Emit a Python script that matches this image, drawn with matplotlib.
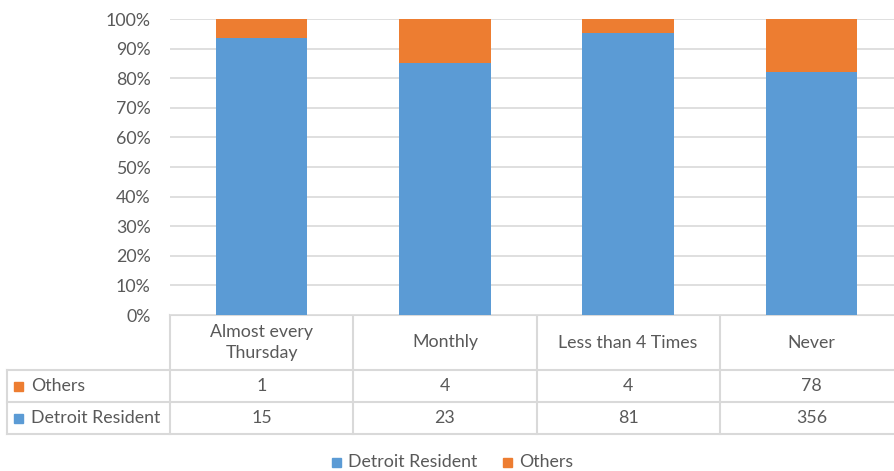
import matplotlib
matplotlib.use("Agg")
import matplotlib.pyplot as plt
import numpy as np
from matplotlib.patches import Rectangle

categories = ["Almost every\nThursday", "Monthly", "Less than 4 Times", "Never"]
series_names = ["Detroit Resident", "Others"]
detroit = [15, 23, 81, 356]
others = [1, 4, 4, 78]
yticks = [0, 10, 20, 30, 40, 50, 60, 70, 80, 90, 100]

BLUE = "#5B9BD5"
ORANGE = "#ED7D31"
GRID = "#D9D9D9"
TXT = "#595959"
FONT = ["Lato", "DejaVu Sans"]
plt.rcParams["font.family"] = FONT
FS = 12.8

W, H = 894, 471
fig = plt.figure(figsize=(W / 100, H / 100), dpi=100)

# pixel layout
ax_l, ax_r, ax_t, ax_b = 170, 903, 19, 315
ax = fig.add_axes([ax_l / W, 1 - ax_b / H, (ax_r - ax_l) / W, (ax_b - ax_t) / H])

det = np.array(detroit, float)
oth = np.array(others, float)
tot = det + oth
det_p = det / tot * 100
oth_p = oth / tot * 100
x = np.arange(len(categories))
ax.bar(x, det_p, width=0.5, color=BLUE, zorder=3)
ax.bar(x, oth_p, width=0.5, bottom=det_p, color=ORANGE, zorder=3)
ax.set_xlim(-0.5, len(categories) - 0.5)
ax.set_ylim(0, 100)
ax.set_yticks(yticks)
ax.set_yticklabels([f"{v}%" for v in yticks], color=TXT, fontsize=FS)
ax.tick_params(axis="y", length=0, pad=14)
ax.set_xticks([])
ax.grid(axis="y", color=GRID, linewidth=1.2, zorder=0)
for s in ax.spines.values():
    s.set_visible(False)

# data table drawn in pixel coordinates
tab = fig.add_axes([0, 0, 1, 1], zorder=-1)
tab.set_xlim(0, W)
tab.set_ylim(H, 0)
tab.axis("off")
col_w = (ax_r - ax_l) / len(categories)
left_edge = 7
rows_y = [315, 370, 402, 434]
lw = 1.5
tab.plot([ax_l, W], [rows_y[0]] * 2, color=GRID, lw=lw)
for yy in rows_y[1:]:
    tab.plot([left_edge, W], [yy, yy], color=GRID, lw=lw)
tab.plot([left_edge, left_edge], [rows_y[1], rows_y[3]], color=GRID, lw=lw)
for i in range(len(categories)):
    xx = ax_l + i * col_w
    tab.plot([xx, xx], [rows_y[0], rows_y[3]], color=GRID, lw=lw)

for i, c in enumerate(categories):
    cx = ax_l + (i + 0.5) * col_w
    tab.text(cx, (rows_y[0] + rows_y[1]) / 2, c, ha="center", va="center",
             color=TXT, fontsize=FS, linespacing=1.45)
    tab.text(cx, (rows_y[1] + rows_y[2]) / 2, str(others[i]), ha="center",
             va="center", color=TXT, fontsize=FS)
    tab.text(cx, (rows_y[2] + rows_y[3]) / 2, str(detroit[i]), ha="center",
             va="center", color=TXT, fontsize=FS)

for name, col, yy in [("Others", ORANGE, (rows_y[1] + rows_y[2]) / 2),
                      ("Detroit Resident", BLUE, (rows_y[2] + rows_y[3]) / 2)]:
    tab.add_patch(Rectangle((14, yy - 4), 9, 9, color=col))
    tab.text(31, yy, name, ha="left", va="center", color=TXT, fontsize=FS)

# legend
leg = [("Detroit Resident", BLUE, 332), ("Others", ORANGE, 503)]
for name, col, lx in leg:
    tab.add_patch(Rectangle((lx, 458), 9, 9, color=col))
    tab.text(lx + 16, 462, name, ha="left", va="center", color=TXT, fontsize=FS)

fig.savefig("out.png", dpi=100)
